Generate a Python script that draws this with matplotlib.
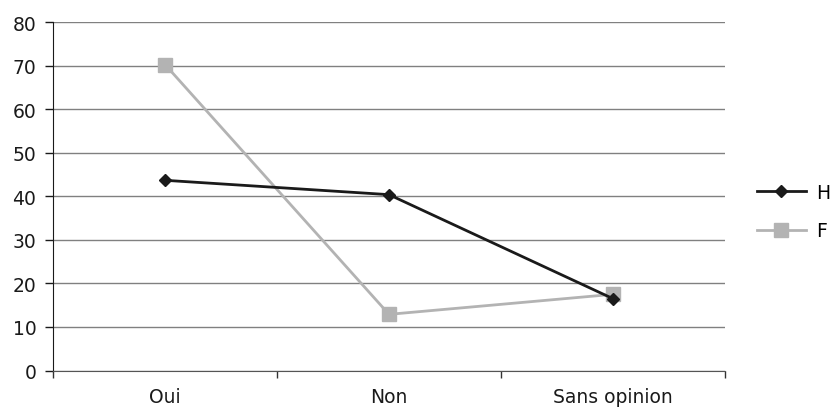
import matplotlib
matplotlib.use("Agg")
import matplotlib.pyplot as plt
from matplotlib.ticker import FixedLocator

categories = ["Oui", "Non", "Sans opinion"]
h_values = [43.7, 40.4, 16.5]
f_values = [70.3, 12.9, 17.5]
y_ticks = [0, 10, 20, 30, 40, 50, 60, 70, 80]

plt.rcParams['font.family'] = ['DejaVu Sans']
FS = 13.5

fig = plt.figure(figsize=(8.32, 4.10), dpi=100)
ax = fig.add_axes([53/832, 1 - 371.5/410, (725-53)/832, (371.5-23.3)/410])

x = list(range(len(categories)))
ax.plot(x, h_values, color="#1a1a1a", lw=2, marker="D", markersize=6,
        markerfacecolor="#1a1a1a", markeredgecolor="#1a1a1a", label="H", zorder=4)
ax.plot(x, f_values, color="#b3b3b3", lw=2, marker="s", markersize=9.5,
        markerfacecolor="#b3b3b3", markeredgecolor="#b3b3b3", label="F", zorder=3)

ax.set_xlim(-0.5, len(categories) - 0.5)
ax.set_ylim(0, 80)
ax.set_yticks(y_ticks)
ax.yaxis.grid(True, color="#808080", lw=1)
ax.set_axisbelow(True)

ax.set_xticks(x)
ax.set_xticklabels(categories)
ax.xaxis.set_minor_locator(FixedLocator([-0.5, 0.5, 1.5, 2.5]))
ax.tick_params(axis="x", which="major", length=0, pad=12, labelsize=FS, colors="#1a1a1a")
ax.tick_params(axis="x", which="minor", length=5, width=1, color="#333333")
ax.tick_params(axis="y", length=6, width=1, pad=6, labelsize=FS, colors="#1a1a1a")

for s in ["top", "right"]:
    ax.spines[s].set_visible(False)
ax.spines["left"].set_color("#1a1a1a")
ax.spines["bottom"].set_color("#555555")

leg = ax.legend(loc="center left", bbox_to_anchor=(757/832, 1 - 212.5/410),
                bbox_transform=fig.transFigure, frameon=False, borderpad=0,
                borderaxespad=0, fontsize=FS, handlelength=2.6, labelspacing=1.05,
                handletextpad=0.55)

fig.savefig("out.png", dpi=100)
